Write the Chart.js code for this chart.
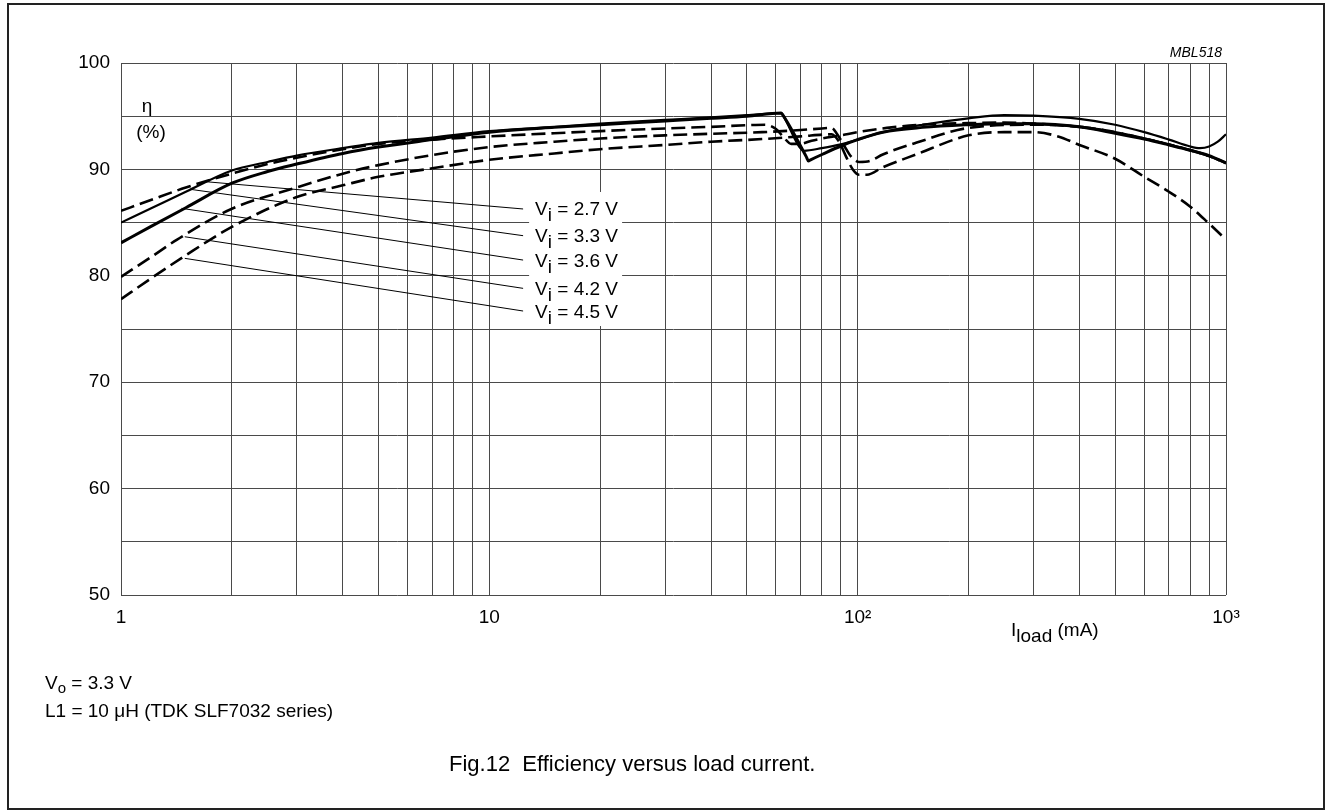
<!DOCTYPE html>
<html>
<head>
<meta charset="utf-8">
<script src="https://cdn.jsdelivr.net/npm/chart.js@4.4.1/dist/chart.umd.min.js"></script>
<style>
  html, body { margin: 0; padding: 0; background: #fff; }
  canvas { display: block; }
</style>
</head>
<body>
<canvas id="effChart" width="1329" height="812"></canvas>
<script>
// ==========================================
// DATA
// ==========================================

// Grid lines on the log axis and the few that carry a label
const xTickValues = [1, 2, 3, 4, 5, 6, 7, 8, 9, 10, 20, 30, 40, 50, 60, 70, 80, 90,
  100, 200, 300, 400, 500, 600, 700, 800, 900, 1000];
const xTickLabels = { 1: "1", 10: "10", 100: "10²", 1000: "10³" };
const yLabelledTicks = [50, 60, 70, 80, 90, 100];

// Input voltages (one curve each)
const inputVoltages = ["2.7", "3.3", "3.6", "4.2", "4.5"];

// Vi = 2.7 V (dashed)
const current27 = [1, 1.2, 1.5, 2, 2.5, 3, 4, 5, 7, 10, 15, 20, 30, 40, 50, 56, 60, 63, 66, 70,
  75, 80, 90, 100, 120, 150, 200, 250, 300, 400, 500, 600, 700, 800, 900, 1000];
const eff27 = [86.1, 87.1, 88.3, 89.6, 90.5, 91.1, 91.9, 92.4, 92.8, 93.1, 93.4, 93.6, 93.85, 94.0, 94.15, 94.2, 93.8, 93.0, 92.4, 92.4,
  92.7, 92.9, 93.2, 93.5, 93.9, 94.2, 94.35, 94.4, 94.3, 94.0, 93.5, 92.9, 92.35, 91.8, 91.25, 90.6];

// Vi = 3.3 V (solid, thinner)
const current33 = [1, 1.2, 1.5, 2, 2.5, 3, 4, 5, 7, 10, 15, 20, 30, 40, 50, 62, 62.8, 69.5, 71.5, 80, 90, 100,
  117, 150, 200, 250, 300, 400, 500, 600, 700, 800, 850, 900, 950, 1000];
const eff33 = [85.0, 86.3, 87.9, 89.9, 90.7, 91.3, 92.0, 92.5, 93.0, 93.6, 94.0, 94.3, 94.65, 94.9, 95.1, 95.3, 95.05, 92.1, 91.75, 92.0, 92.35, 92.8,
  93.5, 94.2, 94.8, 95.1, 95.05, 94.75, 94.2, 93.5, 92.8, 92.15, 92.0, 92.15, 92.6, 93.3];

// Vi = 3.6 V (solid, thick)
const current36 = [1, 1.2, 1.5, 2, 2.5, 3, 4, 5, 7, 10, 15, 20, 30, 40, 50, 62, 62.8, 72.5, 73.5, 74.5, 80, 90, 100,
  117, 150, 200, 250, 300, 400, 500, 600, 700, 800, 900, 1000];
const eff36 = [83.1, 84.6, 86.4, 88.7, 89.8, 90.5, 91.5, 92.1, 92.8, 93.5, 93.95, 94.2, 94.55, 94.8, 95.0, 95.3, 95.05, 91.2, 90.8, 90.9, 91.4, 92.2, 92.8,
  93.5, 93.95, 94.2, 94.3, 94.3, 94.0, 93.4, 92.85, 92.3, 91.8, 91.3, 90.6];

// Vi = 4.2 V (dashed)
const current42 = [1, 1.2, 1.42, 2, 3, 4, 5, 7, 10, 15, 20, 30, 40, 55, 70, 80, 85, 88, 92, 96,
  101, 108, 117, 144, 200, 300, 400, 500, 600, 700, 800, 900, 1000];
const eff42 = [79.9, 81.7, 83.4, 86.3, 88.3, 89.6, 90.4, 91.35, 92.1, 92.6, 92.9, 93.2, 93.35, 93.5, 93.7, 93.85, 93.9, 93.3, 92.2, 91.2,
  90.7, 90.8, 91.4, 92.5, 93.9, 94.2, 94.0, 93.5, 92.9, 92.35, 91.8, 91.25, 90.6];

// Vi = 4.5 V (dashed)
const current45 = [1, 1.2, 1.48, 2, 3, 4, 5, 7, 10, 15, 20, 30, 40, 55, 70, 85, 89, 93, 97, 101,
  106, 117, 144, 200, 250, 300, 350, 400, 500, 600, 700, 800, 900, 1000];
const eff45 = [77.8, 79.7, 81.8, 84.6, 87.4, 88.5, 89.3, 90.1, 90.9, 91.5, 91.9, 92.3, 92.6, 92.85, 93.1, 93.3, 92.6, 91.2, 90.0, 89.5,
  89.5, 90.2, 91.4, 93.2, 93.5, 93.5, 93.1, 92.3, 91.0, 89.3, 87.9, 86.5, 84.9, 83.4];

// Leader lines from each curve to its label (current in mA, efficiency in %)
const leaderStartCurrent = [1.69, 1.54, 1.46, 1.49, 1.49];
const leaderStartEff = [88.85, 88.13, 86.34, 83.67, 81.64];
const leaderEndCurrent = [12.35, 12.35, 12.35, 12.35, 12.35];
const leaderEndEff = [86.28, 83.77, 81.48, 78.82, 76.69];

// ==========================================
// STYLE
// ==========================================

const FONT = "'Liberation Sans', Arial, Helvetica, sans-serif";
const INK = "#000";
const GRID = "#4a4a4a";
const DASH = [14, 6];

function toPoints(xs, ys) {
  return xs.map((x, i) => ({ x: x, y: ys[i] }));
}

function curve(xs, ys, width, dash) {
  return {
    data: toPoints(xs, ys),
    borderColor: INK,
    borderWidth: width,
    borderDash: dash,
    showLine: true,
    pointRadius: 0,
    cubicInterpolationMode: "monotone",
    fill: false,
  };
}

const leaderSets = inputVoltages.map((v, i) => ({
  data: [
    { x: leaderStartCurrent[i], y: leaderStartEff[i] },
    { x: leaderEndCurrent[i], y: leaderEndEff[i] },
  ],
  borderColor: INK,
  borderWidth: 1,
  showLine: true,
  pointRadius: 0,
  tension: 0,
}));

// ==========================================
// TEXT HELPERS
// ==========================================

// draws a run of text pieces, each with its own size and baseline shift
function drawRuns(ctx, x, y, runs) {
  let cx = x;
  runs.forEach((r) => {
    ctx.font = (r.italic ? "italic " : "") + r.size + "px " + FONT;
    ctx.fillText(r.t, cx, y + (r.dy || 0));
    cx += ctx.measureText(r.t).width;
  });
}

const annotationPlugin = {
  id: "annotations",
  afterDatasetsDraw(chart) {
    const ctx = chart.ctx;
    const xs = chart.scales.x;
    const ys = chart.scales.y;
    const x0 = xs.getPixelForValue(leaderEndCurrent[0]);
    const yFirst = ys.getPixelForValue(leaderEndEff[0]);
    const yLast = ys.getPixelForValue(leaderEndEff[leaderEndEff.length - 1]);

    ctx.save();
    // white box behind the curve labels
    ctx.fillStyle = "#fff";
    ctx.fillRect(x0 + 6, yFirst - 17, 93, yLast - yFirst + 32);

    ctx.fillStyle = INK;
    ctx.textBaseline = "alphabetic";
    ctx.textAlign = "left";
    inputVoltages.forEach((v, i) => {
      const px = xs.getPixelForValue(leaderEndCurrent[i]) + 12;
      const py = ys.getPixelForValue(leaderEndEff[i]) + 6.5;
      drawRuns(ctx, px, py, [
        { t: "V", size: 19 },
        { t: "i", size: 19, dy: 6 },
        { t: " = " + v + " V", size: 19 },
      ]);
    });
    ctx.restore();
  },
  afterDraw(chart) {
    const ctx = chart.ctx;
    const area = chart.chartArea;
    ctx.save();
    ctx.fillStyle = INK;

    // axis quantity inside the plot
    ctx.textAlign = "center";
    ctx.textBaseline = "alphabetic";
    ctx.font = "19px " + FONT;
    ctx.fillText("η", area.left + 26, area.top + 49);
    ctx.fillText("(%)", area.left + 30, area.top + 75);

    // drawing number
    ctx.textAlign = "right";
    ctx.font = "italic 14px " + FONT;
    ctx.fillText("MBL518", area.right - 4, area.top - 6);

    // x axis title
    ctx.textAlign = "left";
    drawRuns(ctx, 1011, 636, [
      { t: "I", size: 19 },
      { t: "load", size: 19, dy: 5.5 },
      { t: " (mA)", size: 19 },
    ]);

    // conditions
    drawRuns(ctx, 45, 689, [
      { t: "V", size: 19 },
      { t: "o", size: 15, dy: 4 },
      { t: " = 3.3 V", size: 19 },
    ]);
    drawRuns(ctx, 45, 717, [{ t: "L1 = 10 μH (TDK SLF7032 series)", size: 19 }]);

    // caption
    ctx.font = "22px " + FONT;
    ctx.fillText("Fig.12  Efficiency versus load current.", 449, 771);

    // frame round the whole figure
    ctx.strokeStyle = "#222";
    ctx.lineWidth = 2;
    ctx.strokeRect(8, 4, 1316, 805);
    ctx.restore();
  },
};

// ==========================================
// CHART
// ==========================================

const chart = new Chart(document.getElementById("effChart").getContext("2d"), {
  type: "scatter",
  data: {
    datasets: [
      ...leaderSets,
      curve(current27, eff27, 2.6, DASH),
      curve(current33, eff33, 2.2, []),
      curve(current36, eff36, 3, []),
      curve(current42, eff42, 2.6, DASH),
      curve(current45, eff45, 2.6, DASH),
    ],
  },
  options: {
    responsive: false,
    animation: false,
    events: [],
    layout: { padding: { left: 0, top: 63, right: 103, bottom: 0 } },
    plugins: {
      legend: { display: false },
      tooltip: { enabled: false },
    },
    scales: {
      x: {
        type: "logarithmic",
        min: 1,
        max: 1000,
        afterBuildTicks(scale) {
          scale.ticks = xTickValues.map((v) => ({ value: v }));
        },
        afterFit(scale) {
          scale.height = 217;
        },
        border: { display: false },
        grid: { color: GRID, lineWidth: 1, drawTicks: false },
        ticks: {
          autoSkip: false,
          maxRotation: 0,
          padding: 11,
          color: INK,
          font: { family: FONT, size: 19 },
          callback: (v) => xTickLabels[v] || "",
        },
      },
      y: {
        min: 50,
        max: 100,
        afterFit(scale) {
          scale.width = 121;
        },
        border: { display: false },
        grid: { color: GRID, lineWidth: 1, drawTicks: false },
        ticks: {
          stepSize: 5,
          padding: 11,
          color: INK,
          font: { family: FONT, size: 19 },
          callback: (v) => (yLabelledTicks.includes(v) ? String(v) : ""),
        },
      },
    },
  },
  plugins: [annotationPlugin],
});
</script>
</body>
</html>
